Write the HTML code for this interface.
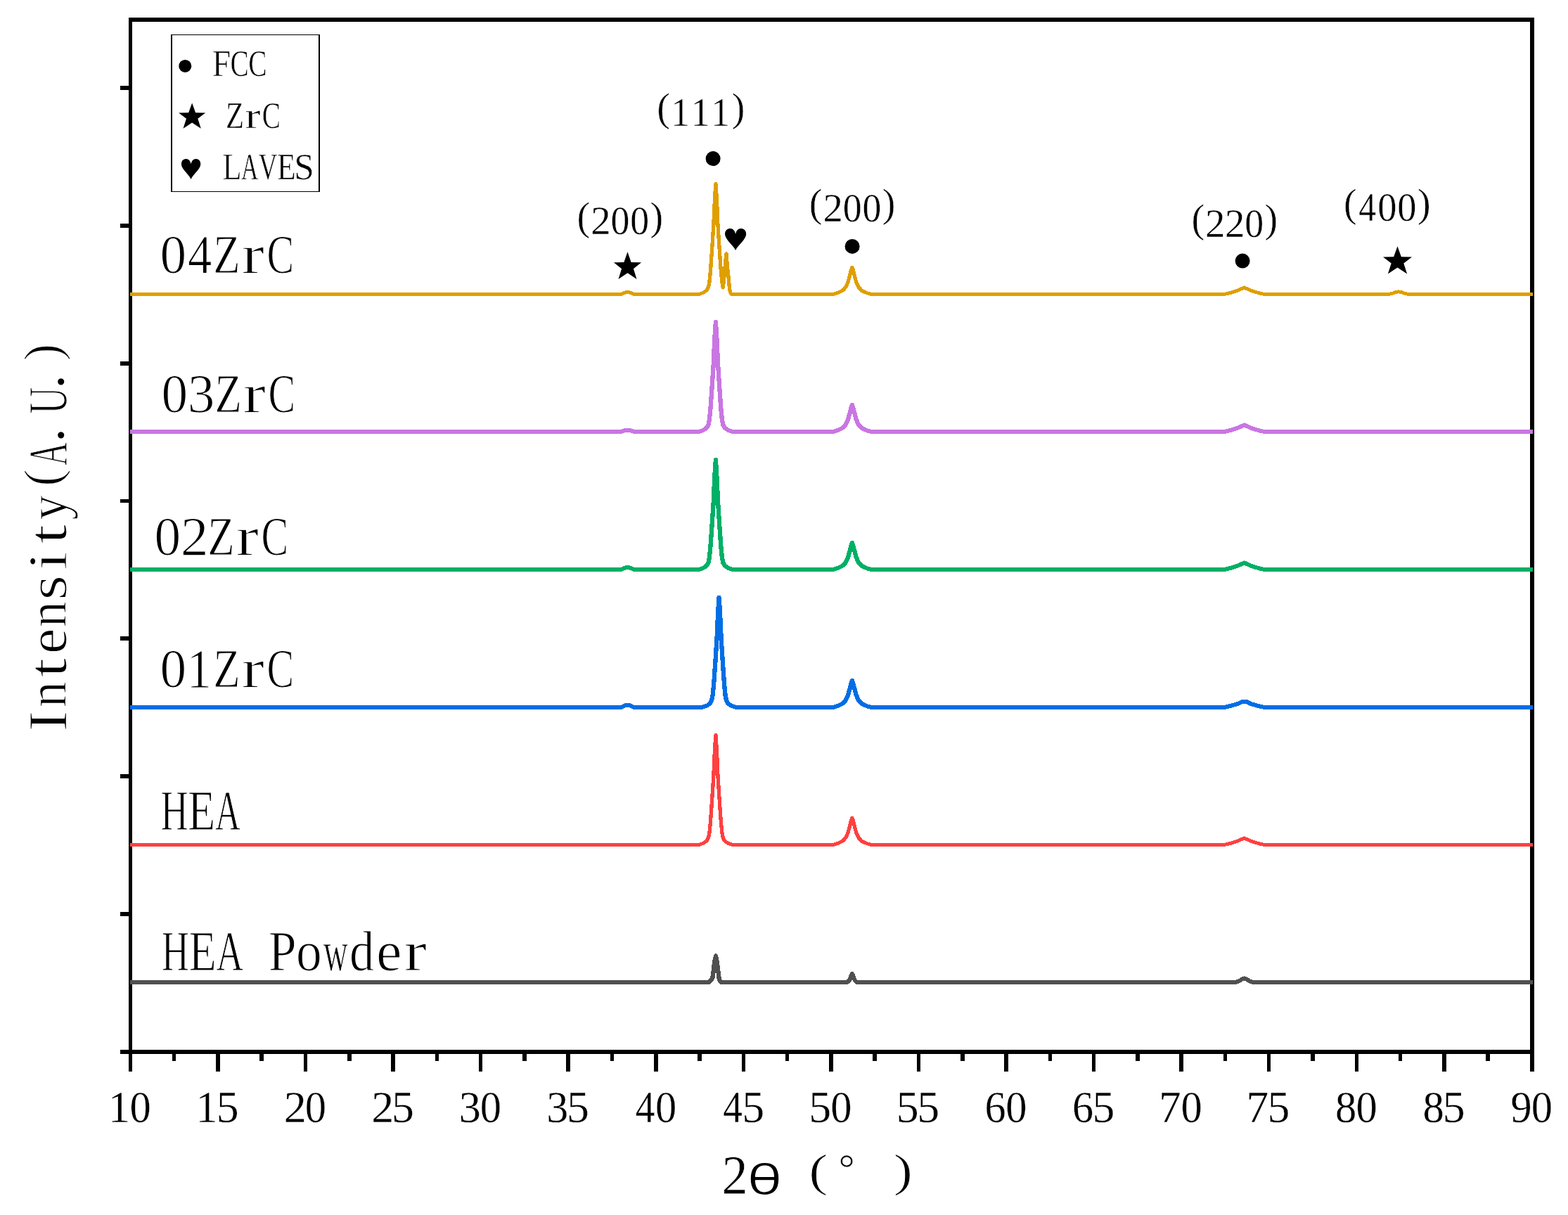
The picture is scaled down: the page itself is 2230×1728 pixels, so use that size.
<!DOCTYPE html>
<html lang="en"><head><meta charset="utf-8"><title>XRD patterns</title>
<style>html,body{margin:0;padding:0;background:#fff}svg{display:block}</style></head>
<body>
<svg width="2230" height="1728" viewBox="0 0 2230 1728">
<rect width="2230" height="1728" fill="#fff"/>
<g shape-rendering="crispEdges">
<rect x="183" y="25" width="5" height="1499" fill="#000"/>
<rect x="2176" y="25" width="6" height="1499" fill="#000"/>
<rect x="183" y="25" width="1999" height="6" fill="#000"/>
<rect x="171" y="1493" width="2011" height="6" fill="#000"/>
<rect x="171" y="122" width="12" height="6" fill="#000"/>
<rect x="171" y="318" width="12" height="6" fill="#000"/>
<rect x="171" y="514" width="12" height="6" fill="#000"/>
<rect x="171" y="710" width="12" height="5" fill="#000"/>
<rect x="171" y="905" width="12" height="6" fill="#000"/>
<rect x="171" y="1101" width="12" height="6" fill="#000"/>
<rect x="171" y="1297" width="12" height="6" fill="#000"/>
<rect x="245" y="1499" width="5" height="10" fill="#000"/>
<rect x="307" y="1499" width="6" height="25" fill="#000"/>
<rect x="369" y="1499" width="6" height="10" fill="#000"/>
<rect x="432" y="1499" width="5" height="25" fill="#000"/>
<rect x="494" y="1499" width="6" height="10" fill="#000"/>
<rect x="556" y="1499" width="6" height="25" fill="#000"/>
<rect x="619" y="1499" width="5" height="10" fill="#000"/>
<rect x="681" y="1499" width="5" height="25" fill="#000"/>
<rect x="743" y="1499" width="6" height="10" fill="#000"/>
<rect x="805" y="1499" width="6" height="25" fill="#000"/>
<rect x="868" y="1499" width="5" height="10" fill="#000"/>
<rect x="930" y="1499" width="6" height="25" fill="#000"/>
<rect x="992" y="1499" width="6" height="10" fill="#000"/>
<rect x="1055" y="1499" width="5" height="25" fill="#000"/>
<rect x="1117" y="1499" width="5" height="10" fill="#000"/>
<rect x="1179" y="1499" width="6" height="25" fill="#000"/>
<rect x="1241" y="1499" width="6" height="10" fill="#000"/>
<rect x="1304" y="1499" width="5" height="25" fill="#000"/>
<rect x="1366" y="1499" width="6" height="10" fill="#000"/>
<rect x="1428" y="1499" width="6" height="25" fill="#000"/>
<rect x="1491" y="1499" width="5" height="10" fill="#000"/>
<rect x="1553" y="1499" width="5" height="25" fill="#000"/>
<rect x="1615" y="1499" width="6" height="10" fill="#000"/>
<rect x="1677" y="1499" width="6" height="25" fill="#000"/>
<rect x="1740" y="1499" width="5" height="10" fill="#000"/>
<rect x="1802" y="1499" width="5" height="25" fill="#000"/>
<rect x="1864" y="1499" width="6" height="10" fill="#000"/>
<rect x="1927" y="1499" width="5" height="25" fill="#000"/>
<rect x="1989" y="1499" width="5" height="10" fill="#000"/>
<rect x="2051" y="1499" width="6" height="25" fill="#000"/>
<rect x="2113" y="1499" width="6" height="10" fill="#000"/>
</g>
<path d="M185.0,416H883.6V421H185.0Z M901.4,416H994.4V421H901.4Z M1039.8,416H1185.4V421H1039.8Z M1238.4,416H1741.6V421H1238.4Z M1797.6,416H1975.8V421H1797.6Z M2002.2,416H2180.0V421H2002.2Z" fill="#DF9F00" shape-rendering="crispEdges"/>
<path d="M881.10,418.50 L883.10,418.50 L887.50,416.70 L890.50,415.60 L892.50,415.40 L894.50,415.60 L897.50,416.70 L901.90,418.50 L903.90,418.50 M991.90,418.50 L993.90,418.50 L1000.90,415.98 L1004.90,413.07 L1007.40,408.74 L1008.90,401.29 L1010.50,385.19 L1012.70,353.08 L1014.90,318.87 L1015.65,299.74 L1016.75,278.11 L1017.90,261.50 L1019.05,278.11 L1020.15,299.74 L1020.90,318.87 L1023.10,353.08 L1025.30,385.19 L1026.90,401.29 L1028.30,409.00 L1030.00,392.50 L1031.70,372.50 L1033.00,360.80 L1034.30,377.50 L1036.00,393.70 L1037.30,408.50 L1038.50,415.50 L1040.30,418.50 L1042.30,418.50 M1182.90,418.50 L1184.90,418.50 L1189.90,417.00 L1194.90,415.00 L1199.25,412.50 L1202.85,408.10 L1205.95,401.50 L1208.40,392.50 L1210.65,383.70 L1211.90,380.50 L1213.15,383.70 L1215.40,392.50 L1217.85,401.50 L1220.95,408.10 L1224.55,412.50 L1228.90,415.00 L1233.90,417.00 L1238.90,418.50 L1240.90,418.50 M1739.10,418.50 L1741.10,418.50 L1747.60,417.00 L1754.60,415.10 L1760.60,412.90 L1765.60,410.70 L1769.60,409.00 L1773.60,410.70 L1778.60,412.90 L1784.60,415.10 L1791.60,417.00 L1798.10,418.50 L1800.10,418.50 M1973.30,418.50 L1975.30,418.50 L1981.00,417.00 L1986.00,415.20 L1989.00,414.90 L1992.00,415.20 L1997.00,417.00 L2002.70,418.50 L2004.70,418.50" fill="none" stroke="#DF9F00" stroke-width="5" stroke-linejoin="round" stroke-linecap="butt" shape-rendering="crispEdges"/>
<path d="M1004.30,413.50 L1004.90,413.07 L1007.40,408.74 L1008.90,401.29 L1010.50,385.19 L1012.70,353.08 L1014.90,318.87 L1015.65,299.74 L1016.75,278.11 L1017.90,261.50 L1019.05,278.11 L1020.15,299.74 L1020.90,318.87 L1023.10,353.08 L1025.30,385.19 L1026.90,401.29 L1028.30,409.00 L1030.00,392.50 L1031.70,372.50 L1033.00,360.80 L1034.30,377.50 L1036.00,393.70 L1037.30,408.50 L1038.16,413.50 M1197.51,413.50 L1199.25,412.50 L1202.85,408.10 L1205.95,401.50 L1208.40,392.50 L1210.65,383.70 L1211.90,380.50 L1213.15,383.70 L1215.40,392.50 L1217.85,401.50 L1220.95,408.10 L1224.55,412.50 L1226.29,413.50" fill="none" stroke="#DF9F00" stroke-width="5.3" stroke-linejoin="round" stroke-linecap="round" shape-rendering="crispEdges"/>
<path d="M185.0,611H883.6V617H185.0Z M901.4,611H994.4V617H901.4Z M1041.4,611H1185.4V617H1041.4Z M1238.4,611H1741.6V617H1238.4Z M1797.6,611H2180.0V617H1797.6Z" fill="#C976E3" shape-rendering="crispEdges"/>
<path d="M881.10,614.00 L883.10,614.00 L887.50,612.56 L890.50,611.68 L892.50,611.52 L894.50,611.68 L897.50,612.56 L901.90,614.00 L903.90,614.00 M991.90,614.00 L993.90,614.00 L1000.90,611.50 L1004.90,608.60 L1007.40,604.30 L1008.90,596.90 L1010.50,580.90 L1012.70,549.00 L1014.90,515.00 L1015.65,496.00 L1016.75,474.50 L1017.90,458.00 L1019.05,474.50 L1020.15,496.00 L1020.90,515.00 L1023.10,549.00 L1025.30,580.90 L1026.90,596.90 L1028.40,604.30 L1030.90,608.60 L1034.90,611.50 L1041.90,614.00 L1043.90,614.00 M1182.90,614.00 L1184.90,614.00 L1189.90,612.50 L1194.90,610.50 L1199.25,608.00 L1202.85,603.60 L1205.95,597.00 L1208.40,588.00 L1210.65,579.20 L1211.90,576.00 L1213.15,579.20 L1215.40,588.00 L1217.85,597.00 L1220.95,603.60 L1224.55,608.00 L1228.90,610.50 L1233.90,612.50 L1238.90,614.00 L1240.90,614.00 M1739.10,614.00 L1741.10,614.00 L1747.60,612.50 L1754.60,610.60 L1760.60,608.40 L1765.60,606.20 L1769.60,604.50 L1773.60,606.20 L1778.60,608.40 L1784.60,610.60 L1791.60,612.50 L1798.10,614.00 L1800.10,614.00" fill="none" stroke="#C976E3" stroke-width="6" stroke-linejoin="round" stroke-linecap="butt" shape-rendering="crispEdges"/>
<path d="M1004.35,609.00 L1004.90,608.60 L1007.40,604.30 L1008.90,596.90 L1010.50,580.90 L1012.70,549.00 L1014.90,515.00 L1015.65,496.00 L1016.75,474.50 L1017.90,458.00 L1019.05,474.50 L1020.15,496.00 L1020.90,515.00 L1023.10,549.00 L1025.30,580.90 L1026.90,596.90 L1028.40,604.30 L1030.90,608.60 L1031.45,609.00 M1197.51,609.00 L1199.25,608.00 L1202.85,603.60 L1205.95,597.00 L1208.40,588.00 L1210.65,579.20 L1211.90,576.00 L1213.15,579.20 L1215.40,588.00 L1217.85,597.00 L1220.95,603.60 L1224.55,608.00 L1226.29,609.00" fill="none" stroke="#C976E3" stroke-width="6.3" stroke-linejoin="round" stroke-linecap="round" shape-rendering="crispEdges"/>
<path d="M185.0,807H883.6V813H185.0Z M901.4,807H994.4V813H901.4Z M1041.4,807H1185.4V813H1041.4Z M1238.4,807H1741.6V813H1238.4Z M1797.6,807H2180.0V813H1797.6Z" fill="#00B066" shape-rendering="crispEdges"/>
<path d="M881.10,810.00 L883.10,810.00 L887.50,808.20 L890.50,807.10 L892.50,806.90 L894.50,807.10 L897.50,808.20 L901.90,810.00 L903.90,810.00 M991.90,810.00 L993.90,810.00 L1000.90,807.50 L1004.90,804.60 L1007.40,800.30 L1008.90,792.90 L1010.50,776.90 L1012.70,745.00 L1014.90,711.00 L1015.65,692.00 L1016.75,670.50 L1017.90,654.00 L1019.05,670.50 L1020.15,692.00 L1020.90,711.00 L1023.10,745.00 L1025.30,776.90 L1026.90,792.90 L1028.40,800.30 L1030.90,804.60 L1034.90,807.50 L1041.90,810.00 L1043.90,810.00 M1182.90,810.00 L1184.90,810.00 L1189.90,808.50 L1194.90,806.50 L1199.25,804.00 L1202.85,799.60 L1205.95,793.00 L1208.40,784.00 L1210.65,775.20 L1211.90,772.00 L1213.15,775.20 L1215.40,784.00 L1217.85,793.00 L1220.95,799.60 L1224.55,804.00 L1228.90,806.50 L1233.90,808.50 L1238.90,810.00 L1240.90,810.00 M1739.10,810.00 L1741.10,810.00 L1747.60,808.50 L1754.60,806.60 L1760.60,804.40 L1765.60,802.20 L1769.60,800.50 L1773.60,802.20 L1778.60,804.40 L1784.60,806.60 L1791.60,808.50 L1798.10,810.00 L1800.10,810.00" fill="none" stroke="#00B066" stroke-width="6" stroke-linejoin="round" stroke-linecap="butt" shape-rendering="crispEdges"/>
<path d="M1004.35,805.00 L1004.90,804.60 L1007.40,800.30 L1008.90,792.90 L1010.50,776.90 L1012.70,745.00 L1014.90,711.00 L1015.65,692.00 L1016.75,670.50 L1017.90,654.00 L1019.05,670.50 L1020.15,692.00 L1020.90,711.00 L1023.10,745.00 L1025.30,776.90 L1026.90,792.90 L1028.40,800.30 L1030.90,804.60 L1031.45,805.00 M1197.51,805.00 L1199.25,804.00 L1202.85,799.60 L1205.95,793.00 L1208.40,784.00 L1210.65,775.20 L1211.90,772.00 L1213.15,775.20 L1215.40,784.00 L1217.85,793.00 L1220.95,799.60 L1224.55,804.00 L1226.29,805.00" fill="none" stroke="#00B066" stroke-width="6.3" stroke-linejoin="round" stroke-linecap="round" shape-rendering="crispEdges"/>
<path d="M185.0,1003H883.6V1009H185.0Z M901.4,1003H999.1V1009H901.4Z M1046.1,1003H1185.4V1009H1046.1Z M1238.4,1003H1741.6V1009H1238.4Z M1797.6,1003H2180.0V1009H1797.6Z" fill="#006EE5" shape-rendering="crispEdges"/>
<path d="M881.10,1006.00 L883.10,1006.00 L887.50,1004.02 L890.50,1002.81 L892.50,1002.59 L894.50,1002.81 L897.50,1004.02 L901.90,1006.00 L903.90,1006.00 M996.60,1006.00 L998.60,1006.00 L1005.60,1003.50 L1009.60,1000.60 L1012.10,996.30 L1013.60,988.90 L1015.20,972.90 L1017.40,941.00 L1019.60,907.00 L1020.35,888.00 L1021.45,866.50 L1022.60,850.00 L1023.75,866.50 L1024.85,888.00 L1025.60,907.00 L1027.80,941.00 L1030.00,972.90 L1031.60,988.90 L1033.10,996.30 L1035.60,1000.60 L1039.60,1003.50 L1046.60,1006.00 L1048.60,1006.00 M1182.90,1006.00 L1184.90,1006.00 L1189.90,1004.50 L1194.90,1002.50 L1199.25,1000.00 L1202.85,995.60 L1205.95,989.00 L1208.40,980.00 L1210.65,971.20 L1211.90,968.00 L1213.15,971.20 L1215.40,980.00 L1217.85,989.00 L1220.95,995.60 L1224.55,1000.00 L1228.90,1002.50 L1233.90,1004.50 L1238.90,1006.00 L1240.90,1006.00 M1739.10,1006.00 L1741.10,1006.00 L1748.60,1004.30 L1754.60,1002.60 L1759.60,1001.30 L1763.60,999.40 L1766.60,997.90 L1769.60,997.70 L1772.60,997.90 L1775.60,999.40 L1779.60,1001.30 L1784.60,1002.60 L1790.60,1004.30 L1798.10,1006.00 L1800.10,1006.00" fill="none" stroke="#006EE5" stroke-width="6" stroke-linejoin="round" stroke-linecap="butt" shape-rendering="crispEdges"/>
<path d="M1009.05,1001.00 L1009.60,1000.60 L1012.10,996.30 L1013.60,988.90 L1015.20,972.90 L1017.40,941.00 L1019.60,907.00 L1020.35,888.00 L1021.45,866.50 L1022.60,850.00 L1023.75,866.50 L1024.85,888.00 L1025.60,907.00 L1027.80,941.00 L1030.00,972.90 L1031.60,988.90 L1033.10,996.30 L1035.60,1000.60 L1036.15,1001.00 M1197.51,1001.00 L1199.25,1000.00 L1202.85,995.60 L1205.95,989.00 L1208.40,980.00 L1210.65,971.20 L1211.90,968.00 L1213.15,971.20 L1215.40,980.00 L1217.85,989.00 L1220.95,995.60 L1224.55,1000.00 L1226.29,1001.00" fill="none" stroke="#006EE5" stroke-width="6.3" stroke-linejoin="round" stroke-linecap="round" shape-rendering="crispEdges"/>
<path d="M185.0,1199H994.4V1204H185.0Z M1041.4,1199H1185.4V1204H1041.4Z M1238.4,1199H1741.6V1204H1238.4Z M1797.6,1199H2180.0V1204H1797.6Z" fill="#FF4040" shape-rendering="crispEdges"/>
<path d="M991.90,1201.50 L993.90,1201.50 L1000.90,1199.00 L1004.90,1196.10 L1007.40,1191.80 L1008.90,1184.40 L1010.50,1168.40 L1012.70,1136.50 L1014.90,1102.50 L1015.65,1083.50 L1016.75,1062.00 L1017.90,1045.50 L1019.05,1062.00 L1020.15,1083.50 L1020.90,1102.50 L1023.10,1136.50 L1025.30,1168.40 L1026.90,1184.40 L1028.40,1191.80 L1030.90,1196.10 L1034.90,1199.00 L1041.90,1201.50 L1043.90,1201.50 M1182.90,1201.50 L1184.90,1201.50 L1189.90,1200.00 L1194.90,1198.00 L1199.25,1195.50 L1202.85,1191.10 L1205.95,1184.50 L1208.40,1175.50 L1210.65,1166.70 L1211.90,1163.50 L1213.15,1166.70 L1215.40,1175.50 L1217.85,1184.50 L1220.95,1191.10 L1224.55,1195.50 L1228.90,1198.00 L1233.90,1200.00 L1238.90,1201.50 L1240.90,1201.50 M1739.10,1201.50 L1741.10,1201.50 L1747.60,1200.00 L1754.60,1198.10 L1760.60,1195.90 L1765.60,1193.70 L1769.60,1192.00 L1773.60,1193.70 L1778.60,1195.90 L1784.60,1198.10 L1791.60,1200.00 L1798.10,1201.50 L1800.10,1201.50" fill="none" stroke="#FF4040" stroke-width="5" stroke-linejoin="round" stroke-linecap="butt" shape-rendering="crispEdges"/>
<path d="M1004.35,1196.50 L1004.90,1196.10 L1007.40,1191.80 L1008.90,1184.40 L1010.50,1168.40 L1012.70,1136.50 L1014.90,1102.50 L1015.65,1083.50 L1016.75,1062.00 L1017.90,1045.50 L1019.05,1062.00 L1020.15,1083.50 L1020.90,1102.50 L1023.10,1136.50 L1025.30,1168.40 L1026.90,1184.40 L1028.40,1191.80 L1030.90,1196.10 L1031.45,1196.50 M1197.51,1196.50 L1199.25,1195.50 L1202.85,1191.10 L1205.95,1184.50 L1208.40,1175.50 L1210.65,1166.70 L1211.90,1163.50 L1213.15,1166.70 L1215.40,1175.50 L1217.85,1184.50 L1220.95,1191.10 L1224.55,1195.50 L1226.29,1196.50" fill="none" stroke="#FF4040" stroke-width="5.3" stroke-linejoin="round" stroke-linecap="round" shape-rendering="crispEdges"/>
<path d="M185.0,1394H1008.5V1400H185.0Z M1025.0,1394H1205.4V1400H1025.0Z M1218.4,1394H1758.1V1400H1218.4Z M1781.1,1394H2180.0V1400H1781.1Z" fill="#505050" shape-rendering="crispEdges"/>
<path d="M1006.00,1397.00 L1008.00,1397.00 L1010.00,1395.00 L1012.00,1393.00 L1013.40,1390.00 L1014.10,1386.00 L1015.10,1377.00 L1016.40,1367.00 L1018.00,1359.40 L1019.60,1367.00 L1020.90,1377.00 L1021.90,1386.00 L1022.60,1391.00 L1023.60,1394.50 L1025.50,1397.00 L1027.50,1397.00 M1202.90,1397.00 L1204.90,1397.00 L1207.40,1395.00 L1209.10,1392.00 L1210.50,1387.50 L1211.90,1385.00 L1213.30,1387.50 L1214.70,1392.00 L1216.40,1395.00 L1218.90,1397.00 L1220.90,1397.00 M1755.60,1397.00 L1757.60,1397.00 L1762.60,1395.00 L1766.60,1392.50 L1769.60,1391.50 L1772.60,1392.50 L1776.60,1395.00 L1781.60,1397.00 L1783.60,1397.00" fill="none" stroke="#505050" stroke-width="6" stroke-linejoin="round" stroke-linecap="butt" shape-rendering="crispEdges"/>
<path d="M1012.47,1392.00 L1013.40,1390.00 L1014.10,1386.00 L1015.10,1377.00 L1016.40,1367.00 L1018.00,1359.40 L1019.60,1367.00 L1020.90,1377.00 L1021.90,1386.00 L1022.60,1391.00 L1022.89,1392.00" fill="none" stroke="#505050" stroke-width="6.3" stroke-linejoin="round" stroke-linecap="round" shape-rendering="crispEdges"/>
<circle cx="1014.1" cy="225.6" r="10.5" fill="#000"/>
<circle cx="1212.1" cy="350.4" r="10.5" fill="#000"/>
<circle cx="1767.1" cy="371.1" r="10.5" fill="#000"/>
<polygon points="892.50,358.30 897.64,373.04 912.10,373.32 900.93,382.22 905.53,397.00 892.50,388.33 879.47,397.00 884.07,382.22 872.90,373.32 887.36,373.04" fill="#000"/>
<polygon points="1987.50,350.20 1992.87,365.14 2008.00,365.41 1996.32,374.43 2001.13,389.40 1987.50,380.62 1973.87,389.40 1978.68,374.43 1967.00,365.41 1982.13,365.14" fill="#000"/>
<path d="M1046.10,355.90 C1043.68,349.70 1031.00,340.40 1031.00,332.96 C1031.00,327.38 1034.62,324.90 1038.55,324.90 C1042.48,324.90 1045.19,328.00 1046.10,332.96 C1047.01,328.00 1049.72,324.90 1053.65,324.90 C1057.58,324.90 1061.20,327.38 1061.20,332.96 C1061.20,340.40 1048.52,349.70 1046.10,355.90 Z" fill="#000"/>
<path d="M243,49H455V273H243Z M245,50V272H453V50Z" fill="#000" fill-rule="evenodd" shape-rendering="crispEdges"/>
<circle cx="263.3" cy="93.9" r="9" fill="#000"/>
<polygon points="273.15,146.50 278.13,160.29 292.15,160.55 281.32,168.87 285.78,182.70 273.15,174.59 260.51,182.70 264.98,168.87 254.15,160.55 268.17,160.29" fill="#000"/>
<path d="M271.60,254.90 C269.41,249.14 257.90,240.50 257.90,233.59 C257.90,228.40 261.19,226.10 264.75,226.10 C268.31,226.10 270.78,228.98 271.60,233.59 C272.42,228.98 274.89,226.10 278.45,226.10 C282.01,226.10 285.30,228.40 285.30,233.59 C285.30,240.50 273.79,249.14 271.60,254.90 Z" fill="#000"/>
<g font-family="'Liberation Serif', 'Noto Serif CJK SC', serif" fill="#000" stroke="#fff" stroke-width="1.3" stroke-linejoin="round">
<text font-size="63" stroke-width="0.3"><tspan x="153.89" y="1596.30" textLength="31.00" lengthAdjust="spacingAndGlyphs">1</tspan><tspan x="184.61" y="1596.30" textLength="30.28" lengthAdjust="spacingAndGlyphs">0</tspan></text>
<text font-size="63" stroke-width="0.3"><tspan x="278.45" y="1596.30" textLength="31.00" lengthAdjust="spacingAndGlyphs">1</tspan><tspan x="307.78" y="1596.30" textLength="31.86" lengthAdjust="spacingAndGlyphs">5</tspan></text>
<text font-size="63" stroke-width="0.3"><tspan x="403.73" y="1596.30" textLength="32.01" lengthAdjust="spacingAndGlyphs">2</tspan><tspan x="433.74" y="1596.30" textLength="30.28" lengthAdjust="spacingAndGlyphs">0</tspan></text>
<text font-size="63" stroke-width="0.3"><tspan x="528.30" y="1596.30" textLength="32.01" lengthAdjust="spacingAndGlyphs">2</tspan><tspan x="556.91" y="1596.30" textLength="31.86" lengthAdjust="spacingAndGlyphs">5</tspan></text>
<text font-size="63" stroke-width="0.3"><tspan x="652.70" y="1596.30" textLength="31.06" lengthAdjust="spacingAndGlyphs">3</tspan><tspan x="682.87" y="1596.30" textLength="30.28" lengthAdjust="spacingAndGlyphs">0</tspan></text>
<text font-size="63" stroke-width="0.3"><tspan x="777.27" y="1596.30" textLength="31.06" lengthAdjust="spacingAndGlyphs">3</tspan><tspan x="806.04" y="1596.30" textLength="31.86" lengthAdjust="spacingAndGlyphs">5</tspan></text>
<text font-size="63" stroke-width="0.3"><tspan x="903.73" y="1596.30" textLength="27.61" lengthAdjust="spacingAndGlyphs">4</tspan><tspan x="932.00" y="1596.30" textLength="30.28" lengthAdjust="spacingAndGlyphs">0</tspan></text>
<text font-size="63" stroke-width="0.3"><tspan x="1028.29" y="1596.30" textLength="27.61" lengthAdjust="spacingAndGlyphs">4</tspan><tspan x="1055.17" y="1596.30" textLength="31.86" lengthAdjust="spacingAndGlyphs">5</tspan></text>
<text font-size="63" stroke-width="0.3"><tspan x="1150.24" y="1596.30" textLength="31.86" lengthAdjust="spacingAndGlyphs">5</tspan><tspan x="1181.13" y="1596.30" textLength="30.28" lengthAdjust="spacingAndGlyphs">0</tspan></text>
<text font-size="63" stroke-width="0.3"><tspan x="1274.80" y="1596.30" textLength="31.86" lengthAdjust="spacingAndGlyphs">5</tspan><tspan x="1304.30" y="1596.30" textLength="31.86" lengthAdjust="spacingAndGlyphs">5</tspan></text>
<text font-size="63" stroke-width="0.3"><tspan x="1400.49" y="1596.30" textLength="30.04" lengthAdjust="spacingAndGlyphs">6</tspan><tspan x="1430.26" y="1596.30" textLength="30.28" lengthAdjust="spacingAndGlyphs">0</tspan></text>
<text font-size="63" stroke-width="0.3"><tspan x="1525.05" y="1596.30" textLength="30.04" lengthAdjust="spacingAndGlyphs">6</tspan><tspan x="1553.43" y="1596.30" textLength="31.86" lengthAdjust="spacingAndGlyphs">5</tspan></text>
<text font-size="63" stroke-width="0.3"><tspan x="1648.02" y="1596.30" textLength="31.66" lengthAdjust="spacingAndGlyphs">7</tspan><tspan x="1679.39" y="1596.30" textLength="30.28" lengthAdjust="spacingAndGlyphs">0</tspan></text>
<text font-size="63" stroke-width="0.3"><tspan x="1772.59" y="1596.30" textLength="31.66" lengthAdjust="spacingAndGlyphs">7</tspan><tspan x="1802.56" y="1596.30" textLength="31.86" lengthAdjust="spacingAndGlyphs">5</tspan></text>
<text font-size="63" stroke-width="0.3"><tspan x="1899.02" y="1596.30" textLength="30.28" lengthAdjust="spacingAndGlyphs">8</tspan><tspan x="1928.52" y="1596.30" textLength="30.28" lengthAdjust="spacingAndGlyphs">0</tspan></text>
<text font-size="63" stroke-width="0.3"><tspan x="2023.59" y="1596.30" textLength="30.28" lengthAdjust="spacingAndGlyphs">8</tspan><tspan x="2051.69" y="1596.30" textLength="31.86" lengthAdjust="spacingAndGlyphs">5</tspan></text>
<text font-size="63" stroke-width="0.3"><tspan x="2148.52" y="1596.30" textLength="30.07" lengthAdjust="spacingAndGlyphs">9</tspan><tspan x="2177.65" y="1596.30" textLength="30.28" lengthAdjust="spacingAndGlyphs">0</tspan></text>
<text font-size="79" stroke-width="1.2"><tspan x="227.47" y="387.50" textLength="37.66" lengthAdjust="spacingAndGlyphs">0</tspan><tspan x="267.00" y="387.50" textLength="34.33" lengthAdjust="spacingAndGlyphs">4</tspan><tspan x="303.34" y="387.50" textLength="38.36" lengthAdjust="spacingAndGlyphs">Z</tspan><tspan x="343.53" y="387.50" textLength="32.45" lengthAdjust="spacingAndGlyphs">r</tspan><tspan x="379.39" y="387.50" textLength="38.63" lengthAdjust="spacingAndGlyphs">C</tspan></text>
<text font-size="79" stroke-width="1.2"><tspan x="229.57" y="586.20" textLength="37.66" lengthAdjust="spacingAndGlyphs">0</tspan><tspan x="266.74" y="586.20" textLength="38.64" lengthAdjust="spacingAndGlyphs">3</tspan><tspan x="305.44" y="586.20" textLength="38.36" lengthAdjust="spacingAndGlyphs">Z</tspan><tspan x="345.63" y="586.20" textLength="32.45" lengthAdjust="spacingAndGlyphs">r</tspan><tspan x="381.49" y="586.20" textLength="38.63" lengthAdjust="spacingAndGlyphs">C</tspan></text>
<text font-size="79" stroke-width="1.2"><tspan x="219.47" y="789.30" textLength="37.66" lengthAdjust="spacingAndGlyphs">0</tspan><tspan x="256.84" y="789.30" textLength="39.81" lengthAdjust="spacingAndGlyphs">2</tspan><tspan x="295.34" y="789.30" textLength="38.36" lengthAdjust="spacingAndGlyphs">Z</tspan><tspan x="335.53" y="789.30" textLength="32.45" lengthAdjust="spacingAndGlyphs">r</tspan><tspan x="371.39" y="789.30" textLength="38.63" lengthAdjust="spacingAndGlyphs">C</tspan></text>
<text font-size="79" stroke-width="1.2"><tspan x="227.47" y="977.30" textLength="37.66" lengthAdjust="spacingAndGlyphs">0</tspan><tspan x="265.50" y="977.30" textLength="35.62" lengthAdjust="spacingAndGlyphs">1</tspan><tspan x="303.34" y="977.30" textLength="38.36" lengthAdjust="spacingAndGlyphs">Z</tspan><tspan x="343.53" y="977.30" textLength="32.45" lengthAdjust="spacingAndGlyphs">r</tspan><tspan x="379.39" y="977.30" textLength="38.63" lengthAdjust="spacingAndGlyphs">C</tspan></text>
<text font-size="79.5" stroke-width="1.2"><tspan x="228.38" y="1180.00" textLength="39.26" lengthAdjust="spacingAndGlyphs">H</tspan><tspan x="267.05" y="1180.00" textLength="39.25" lengthAdjust="spacingAndGlyphs">E</tspan><tspan x="306.04" y="1180.00" textLength="35.81" lengthAdjust="spacingAndGlyphs">A</tspan></text>
<text font-size="79.5" stroke-width="1.2"><tspan x="229.78" y="1379.60" textLength="39.26" lengthAdjust="spacingAndGlyphs">H</tspan><tspan x="268.45" y="1379.60" textLength="39.25" lengthAdjust="spacingAndGlyphs">E</tspan><tspan x="307.44" y="1379.60" textLength="35.81" lengthAdjust="spacingAndGlyphs">A</tspan> <tspan x="381.85" y="1379.60" textLength="39.90" lengthAdjust="spacingAndGlyphs">P</tspan><tspan x="421.02" y="1379.60" textLength="36.76" lengthAdjust="spacingAndGlyphs">o</tspan><tspan x="459.87" y="1379.60" textLength="35.22" lengthAdjust="spacingAndGlyphs">w</tspan><tspan x="496.89" y="1379.60" textLength="35.34" lengthAdjust="spacingAndGlyphs">d</tspan><tspan x="534.99" y="1379.60" textLength="36.46" lengthAdjust="spacingAndGlyphs">e</tspan><tspan x="574.63" y="1379.60" textLength="32.45" lengthAdjust="spacingAndGlyphs">r</tspan></text>
<text font-size="57" stroke-width="0.4"><tspan x="934.30" y="172.40" textLength="18.65" lengthAdjust="spacingAndGlyphs" font-size="56">(</tspan><tspan x="954.15" y="178.90" textLength="26.81" lengthAdjust="spacingAndGlyphs">1</tspan><tspan x="982.75" y="178.90" textLength="26.81" lengthAdjust="spacingAndGlyphs">1</tspan><tspan x="1011.35" y="178.90" textLength="26.81" lengthAdjust="spacingAndGlyphs">1</tspan><tspan x="1040.86" y="172.40" textLength="18.65" lengthAdjust="spacingAndGlyphs" font-size="56">)</tspan></text>
<text font-size="57" stroke-width="0.4"><tspan x="820.58" y="326.90" textLength="18.65" lengthAdjust="spacingAndGlyphs" font-size="56">(</tspan><tspan x="840.20" y="333.40" textLength="28.43" lengthAdjust="spacingAndGlyphs">2</tspan><tspan x="868.45" y="333.40" textLength="26.89" lengthAdjust="spacingAndGlyphs">0</tspan><tspan x="896.25" y="333.40" textLength="26.89" lengthAdjust="spacingAndGlyphs">0</tspan><tspan x="924.58" y="326.90" textLength="18.65" lengthAdjust="spacingAndGlyphs" font-size="56">)</tspan></text>
<text font-size="57" stroke-width="0.4"><tspan x="1150.78" y="308.10" textLength="18.65" lengthAdjust="spacingAndGlyphs" font-size="56">(</tspan><tspan x="1170.40" y="314.60" textLength="28.43" lengthAdjust="spacingAndGlyphs">2</tspan><tspan x="1198.65" y="314.60" textLength="26.89" lengthAdjust="spacingAndGlyphs">0</tspan><tspan x="1226.45" y="314.60" textLength="26.89" lengthAdjust="spacingAndGlyphs">0</tspan><tspan x="1254.78" y="308.10" textLength="18.65" lengthAdjust="spacingAndGlyphs" font-size="56">)</tspan></text>
<text font-size="57" stroke-width="0.4"><tspan x="1694.48" y="330.00" textLength="18.65" lengthAdjust="spacingAndGlyphs" font-size="56">(</tspan><tspan x="1714.10" y="336.50" textLength="28.43" lengthAdjust="spacingAndGlyphs">2</tspan><tspan x="1741.90" y="336.50" textLength="28.43" lengthAdjust="spacingAndGlyphs">2</tspan><tspan x="1770.15" y="336.50" textLength="26.89" lengthAdjust="spacingAndGlyphs">0</tspan><tspan x="1798.48" y="330.00" textLength="18.65" lengthAdjust="spacingAndGlyphs" font-size="56">)</tspan></text>
<text font-size="57" stroke-width="0.4"><tspan x="1911.00" y="307.90" textLength="18.65" lengthAdjust="spacingAndGlyphs" font-size="56">(</tspan><tspan x="1932.21" y="314.40" textLength="24.78" lengthAdjust="spacingAndGlyphs">4</tspan><tspan x="1959.21" y="314.40" textLength="27.18" lengthAdjust="spacingAndGlyphs">0</tspan><tspan x="1987.31" y="314.40" textLength="27.18" lengthAdjust="spacingAndGlyphs">0</tspan><tspan x="2015.96" y="307.90" textLength="18.65" lengthAdjust="spacingAndGlyphs" font-size="56">)</tspan></text>
<text font-size="53" stroke-width="0.6"><tspan x="301.63" y="108.40" textLength="26.29" lengthAdjust="spacingAndGlyphs">F</tspan><tspan x="327.56" y="108.40" textLength="26.23" lengthAdjust="spacingAndGlyphs">C</tspan><tspan x="353.36" y="108.40" textLength="26.23" lengthAdjust="spacingAndGlyphs">C</tspan></text>
<text font-size="53" stroke-width="0.6"><tspan x="321.12" y="182.30" textLength="26.04" lengthAdjust="spacingAndGlyphs">Z</tspan><tspan x="348.41" y="182.30" textLength="22.03" lengthAdjust="spacingAndGlyphs">r</tspan><tspan x="372.76" y="182.30" textLength="26.23" lengthAdjust="spacingAndGlyphs">C</tspan></text>
<text font-size="53" stroke-width="0.6"><tspan x="316.61" y="254.50" textLength="27.17" lengthAdjust="spacingAndGlyphs">L</tspan><tspan x="343.10" y="254.50" textLength="24.31" lengthAdjust="spacingAndGlyphs">A</tspan><tspan x="367.79" y="254.50" textLength="26.63" lengthAdjust="spacingAndGlyphs">V</tspan><tspan x="394.03" y="254.50" textLength="26.65" lengthAdjust="spacingAndGlyphs">E</tspan><tspan x="418.30" y="254.50" textLength="28.55" lengthAdjust="spacingAndGlyphs">S</tspan></text>
<text font-size="77.5" transform="translate(93.8,1044.5) rotate(-90)" stroke-width="1.3"><tspan x="3.97" y="0.00" textLength="29.98" lengthAdjust="spacingAndGlyphs">I</tspan><tspan x="38.20" y="0.00" textLength="37.02" lengthAdjust="spacingAndGlyphs">n</tspan><tspan x="80.81" y="0.00" textLength="27.99" lengthAdjust="spacingAndGlyphs">t</tspan><tspan x="114.59" y="0.00" textLength="36.46" lengthAdjust="spacingAndGlyphs">e</tspan><tspan x="152.20" y="0.00" textLength="37.02" lengthAdjust="spacingAndGlyphs">n</tspan><tspan x="191.00" y="0.00" textLength="35.55" lengthAdjust="spacingAndGlyphs">s</tspan><tspan x="233.59" y="0.00" textLength="26.64" lengthAdjust="spacingAndGlyphs">i</tspan><tspan x="270.81" y="0.00" textLength="27.99" lengthAdjust="spacingAndGlyphs">t</tspan><tspan x="305.04" y="0.00" textLength="35.34" lengthAdjust="spacingAndGlyphs">y</tspan><tspan x="352.69" y="-8.60" textLength="24.48" lengthAdjust="spacingAndGlyphs" font-size="73.5">(</tspan><tspan x="382.60" y="0.00" textLength="32.69" lengthAdjust="spacingAndGlyphs">A</tspan><tspan x="414.46" y="-2.60" textLength="22.28" lengthAdjust="spacingAndGlyphs" font-size="89.125">.</tspan><tspan x="455.84" y="0.00" textLength="38.33" lengthAdjust="spacingAndGlyphs">U</tspan><tspan x="490.46" y="-2.60" textLength="22.28" lengthAdjust="spacingAndGlyphs" font-size="89.125">.</tspan><tspan x="531.15" y="-8.60" textLength="24.48" lengthAdjust="spacingAndGlyphs" font-size="73.5">)</tspan></text>
<text font-size="79" stroke-width="0.6"><tspan x="1026.4" y="1697.2" textLength="37.2" lengthAdjust="spacingAndGlyphs">2</tspan><tspan font-family="'Liberation Sans', sans-serif" font-size="85.5" x="1062.9" y="1699" textLength="49" lengthAdjust="spacingAndGlyphs" stroke-width="2">ɵ</tspan> <tspan font-size="66.5" x="1150.3" y="1686.9" textLength="27.2" lengthAdjust="spacingAndGlyphs" stroke-width="0.9">(</tspan><tspan font-size="58" x="1192.4" y="1680.5">°</tspan> <tspan font-size="66.5" x="1270.8" y="1686.9" textLength="27.2" lengthAdjust="spacingAndGlyphs" stroke-width="0.9">)</tspan></text>
</g>
</svg>
</body></html>
